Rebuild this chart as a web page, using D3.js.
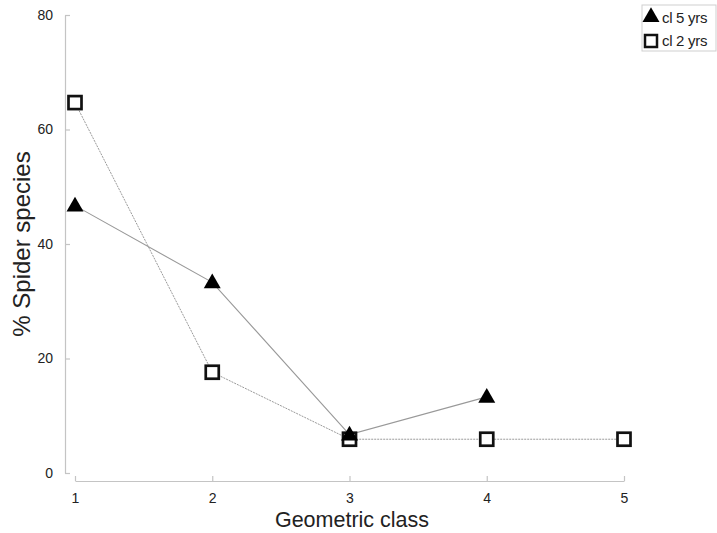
<!DOCTYPE html>
<html>
<head>
<meta charset="utf-8">
<script src="https://cdn.jsdelivr.net/npm/d3@7"></script>
<style>
  html, body { margin: 0; padding: 0; background: #fff; }
  svg { display: block; font-family: "Liberation Sans", Arial, sans-serif; }
</style>
</head>
<body>
<svg id="chart" width="717" height="533"></svg>
<script>
// Geometric class of spider species, two clearing ages
const classes = [1, 2, 3, 4, 5];
const cl5yrs = [46.7, 33.3, 6.7, 13.3];          // classes 1–4
const cl2yrs = [64.7, 17.6, 5.9, 5.9, 5.9];      // classes 1–5
const yTicks = [0, 20, 40, 60, 80];
const seriesNames = ["cl 5 yrs", "cl 2 yrs"];

const svg = d3.select("#chart");

const x = d3.scaleLinear().domain([1, 5]).range([75, 624]);
const y = d3.scaleLinear().domain([0, 80]).range([473, 15]);

const axisColor = "#c4c4c4";
const textColor = "#222";

// y axis (offset from x axis)
const yAxis = svg.append("g")
  .attr("transform", "translate(65,0)")
  .call(d3.axisRight(y).tickValues(yTicks).tickSize(5).tickSizeOuter(0).tickFormat(d3.format("d")));
yAxis.select(".domain").attr("stroke", axisColor).attr("stroke-width", 1.2);
yAxis.selectAll(".tick line").attr("stroke", axisColor).attr("stroke-width", 1.2);
yAxis.selectAll(".tick text")
  .attr("x", -12).attr("text-anchor", "end")
  .attr("fill", textColor).style("font-size", "14px");

// x axis
const xAxis = svg.append("g")
  .attr("transform", "translate(0,481)")
  .call(d3.axisTop(x).tickValues(classes).tickSize(5).tickSizeOuter(0).tickFormat(d3.format("d")));
xAxis.select(".domain").attr("stroke", axisColor).attr("stroke-width", 1.2);
xAxis.selectAll(".tick line").attr("stroke", axisColor).attr("stroke-width", 1.2);
xAxis.selectAll(".tick text")
  .attr("y", 17).attr("dy", "0.35em")
  .attr("fill", textColor).style("font-size", "14px");

// axis titles
svg.append("text")
  .attr("x", 352).attr("y", 527)
  .attr("text-anchor", "middle")
  .attr("fill", textColor).style("font-size", "21.5px")
  .text("Geometric class");
svg.append("text")
  .attr("transform", "translate(30,244) rotate(-90)")
  .attr("text-anchor", "middle")
  .attr("fill", textColor).style("font-size", "24px")
  .text("% Spider species");

const line = d3.line().x((d, i) => x(classes[i])).y(d => y(d));

// connecting lines
svg.append("path")
  .datum(cl2yrs)
  .attr("d", line)
  .attr("fill", "none")
  .attr("stroke", "#9a9a9a")
  .attr("stroke-width", 1)
  .attr("stroke-dasharray", "2,1");
svg.append("path")
  .datum(cl5yrs)
  .attr("d", line)
  .attr("fill", "none")
  .attr("stroke", "#999")
  .attr("stroke-width", 1.1);

const triangle = d3.symbol().type(d3.symbolTriangle).size(125);

// square markers
svg.selectAll(".sq")
  .data(cl2yrs)
  .join("rect")
  .attr("class", "sq")
  .attr("x", (d, i) => x(classes[i]) - 6.5)
  .attr("y", d => y(d) - 6.5)
  .attr("width", 13).attr("height", 13)
  .attr("fill", "#fff")
  .attr("stroke", "#111")
  .attr("stroke-width", 2.7);

// triangle markers
svg.selectAll(".tri")
  .data(cl5yrs)
  .join("path")
  .attr("class", "tri")
  .attr("transform", (d, i) => `translate(${x(classes[i])},${y(d) + 1})`)
  .attr("d", triangle)
  .attr("fill", "#000");

// legend
const lg = svg.append("g").attr("transform", "translate(642,5)");
lg.append("rect")
  .attr("width", 74).attr("height", 46)
  .attr("fill", "#fff")
  .attr("stroke", "#cfcfcf")
  .attr("stroke-width", 1);
lg.append("path")
  .attr("transform", "translate(9,12)")
  .attr("d", triangle)
  .attr("fill", "#000");
lg.append("rect")
  .attr("x", 3).attr("y", 30).attr("width", 12).attr("height", 12)
  .attr("fill", "#fff").attr("stroke", "#111").attr("stroke-width", 2.5);
lg.selectAll(".lt")
  .data(seriesNames)
  .join("text")
  .attr("class", "lt")
  .attr("x", 20)
  .attr("y", (d, i) => 13 + i * 23)
  .attr("dy", "0.35em")
  .attr("fill", textColor)
  .style("font-size", "15px")
  .style("letter-spacing", "-0.3px")
  .text(d => d);
</script>
</body>
</html>
